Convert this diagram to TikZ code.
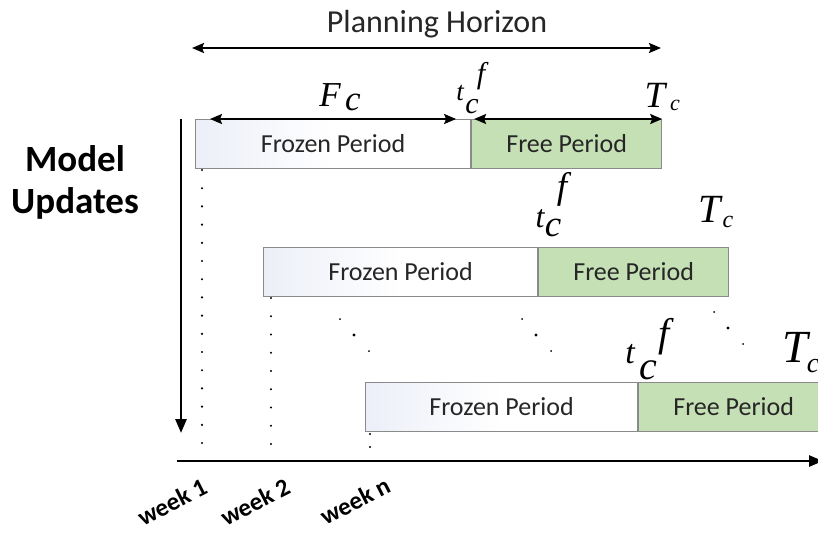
\documentclass[tikz,border=0pt]{standalone}
\usepackage{fontspec}
\setmainfont{Carlito}
\newfontfamily\tnr{Liberation Serif}
\usetikzlibrary{arrows.meta,positioning}
\definecolor{frzcol}{HTML}{ECEFF8}
\definecolor{freecol}{HTML}{C5E0B4}
\definecolor{edgecol}{HTML}{8A8A8A}
\definecolor{txtcol}{HTML}{262626}
\newcommand{\fsz}[1]{\fontsize{#1}{#1}\selectfont}
\tikzset{
  period/.style={draw=edgecol, line width=1.1pt, minimum height=49pt, inner sep=0pt, text=txtcol, font=\fsz{26}},
  frozen/.style={period, left color=frzcol, right color=white, middle color=white, minimum width=275pt},
  free/.style={period, fill=freecol, minimum width=190pt},
  sym/.style={inner sep=0pt, font=\tnr\itshape\fsz{#1}},
  span/.style={line width=2pt, {Stealth[length=12pt,width=10pt,inset=2pt]}-{Stealth[length=12pt,width=10pt,inset=2pt]}},
  axisarr/.style={line width=2.6pt, -{Triangle[length=14pt,width=11pt]}},
  week/.style={font=\bfseries\fsz{25}, rotate=27, inner sep=0pt}
}
\begin{document}
\begin{tikzpicture}[x=1pt,y=-1pt]
  \clip (0,0) rectangle (818,533);
  \fill[white] (0,0) rectangle (818,533);
  % titles
  \node[anchor=base, font=\fsz{32}, text=txtcol, inner sep=0pt] (plan) at (437,32) {Planning Horizon};
  \node[anchor=base, font=\bfseries\fsz{37}, inner sep=0pt] (mdl) at (75,171) {Model};
  \node[anchor=base, font=\bfseries\fsz{37}, inner sep=0pt] (upd) at (75,213) {Updates};
  % periods
  \node[frozen, anchor=north west] (frz1) at (195,119) {Frozen Period};
  \node[free, anchor=west] (fre1) at (frz1.east) {Free Period};
  \node[frozen, anchor=north west, minimum width=274pt] (frz2) at (263,247) {Frozen Period};
  \node[free, anchor=west] (fre2) at (frz2.east) {Free Period};
  \node[frozen, anchor=north west, minimum width=272pt] (frz3) at (365,382) {Frozen Period};
  \node[free, anchor=west] (fre3) at (frz3.east) {Free Period};
  % horizon and period arrows
  \coordinate (ph-l) at (192,48);
  \coordinate (ph-r) at (661,48);
  \draw[span] (ph-l) -- (ph-r);
  \draw[span] ([xshift=15pt]frz1.north west) -- ([xshift=-15pt]frz1.north east);
  \draw[span] ([xshift=3pt]fre1.north west) -- (fre1.north east);
  % labels
  \node[sym=35] (F1) at (330,95) {F};
  \node[sym=35] (F1c) at (353,102) {c};
  \node[sym=27] (t1) at (460,93) {t};
  \node[sym=30] (t1c) at (472,107) {c};
  \node[sym=30] (t1f) at (481,76) {f};
  \node[sym=37] (T1) at (655,95) {T};
  \node[sym=22] (T1c) at (675,105) {c};
  \node[sym=32] (t2) at (540,219) {t};
  \node[sym=37] (t2c) at (553,228) {c};
  \node[sym=37] (t2f) at (562,189) {f};
  \node[sym=40] (T2) at (710,209) {T};
  \node[sym=24] (T2c) at (728,222) {c};
  \node[sym=34] (t3) at (630,354) {t};
  \node[sym=40] (t3c) at (648,370) {c};
  \node[sym=40] (t3f) at (664,337) {f};
  \node[sym=46] (T3) at (795,347) {T};
  \node[sym=28] (T3c) at (813,366) {c};
  % axes
  \coordinate (mu-top) at (181,119);
  \coordinate (mu-bot) at (181,433);
  \draw[axisarr] (mu-top) -- (mu-bot);
  \coordinate (ax-l) at (177,461);
  \coordinate (ax-r) at (823,461);
  \draw[axisarr] (ax-l) -- (ax-r);
  % dots
  \foreach \k in {0,...,15} \fill (202,170+18.2*\k) circle (1.2pt);
  \foreach \k in {0,...,8} \fill (271,298+18.25*\k) circle (1.2pt);
  \fill (370,434) circle (1.2pt);
  \fill (370,447) circle (1.2pt);
  \foreach \x/\y in {340/319,522/319,714/312} {
    \fill (\x,\y) circle (1pt);
    \fill (\x+14,\y+16) circle (1.7pt);
    \fill (\x+29,\y+32) circle (1pt);
  }
  % weeks
  \node[week] (wk1) at (172,502) {week 1};
  \node[week] (wk2) at (255,502) {week 2};
  \node[week] (wkn) at (355,501) {week n};
\end{tikzpicture}
\end{document}
